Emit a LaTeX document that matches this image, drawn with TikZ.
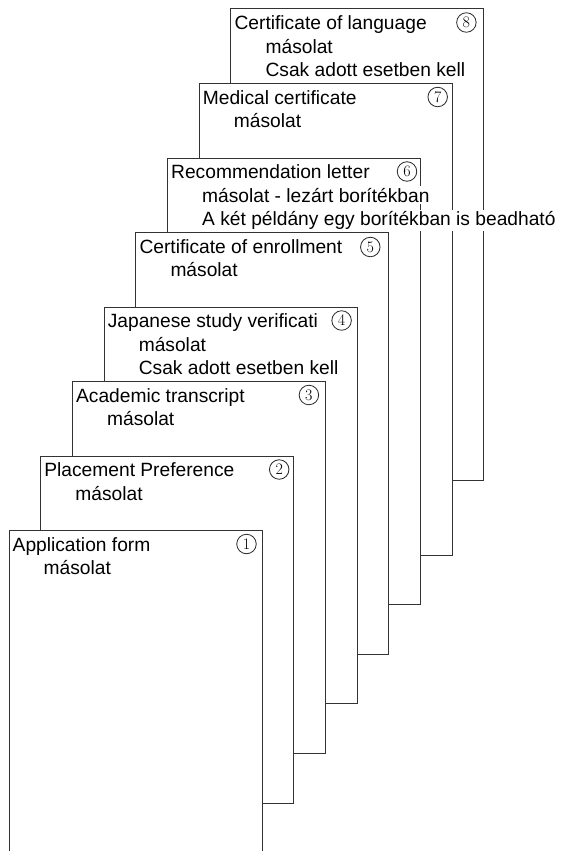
\documentclass[tikz,border=0pt]{standalone}
\usepackage{fontspec}
\newfontfamily\arialfont{Liberation Sans}
\usetikzlibrary{positioning}

\begin{document}
\begin{tikzpicture}[
    x=1pt, y=-1pt,
    page/.style={
      draw=black!80, line width=1pt, fill=white, rectangle,
      anchor=north west, minimum width=253pt, inner sep=0pt
    },
    label/.style={
      font=\arialfont\fontsize{19.2}{20}\selectfont, anchor=base west,
      inner sep=1.5pt, fill=white
    },
    badge/.style={
      circle, draw=black!85, line width=0.8pt, fill=white,
      minimum size=19.5pt, inner sep=0pt, font=\fontsize{16}{16}\selectfont
    }
]
    \useasboundingbox (0,0) rectangle (574,851);

    % Page 8
    \node[page, minimum height=471.5pt] (P8) at (230.4,8.5) {};
    \node[label] (T8) at ([xshift=2.5pt,yshift=-21pt]P8.north west) {Certificate of language};
    \node[label] (T8a) at ([xshift=33.5pt,yshift=-44.5pt]P8.north west) {másolat};
    \node[label] (T8b) at ([xshift=33.5pt,yshift=-68pt]P8.north west) {Csak adott esetben kell};
    \node[badge] (N8) at ([xshift=-18pt,yshift=-14pt]P8.north east) {8};

    % Page 7
    \node[page, minimum height=471.7pt] (P7) at (198.7,83) {};
    \node[label] (T7) at ([xshift=2.5pt,yshift=-21pt]P7.north west) {Medical certificate};
    \node[label] (T7a) at ([xshift=33.5pt,yshift=-44.5pt]P7.north west) {másolat};
    \node[badge] (N7) at ([xshift=-15pt,yshift=-14pt]P7.north east) {7};

    % Page 6
    \node[page, minimum height=446.5pt] (P6) at (167,157.5) {};
    \node[label] (T6) at ([xshift=2.5pt,yshift=-21pt]P6.north west) {Recommendation letter};
    \node[label] (T6a) at ([xshift=33.5pt,yshift=-44.5pt]P6.north west) {másolat - lezárt borítékban};
    \node[label] (T6b) at ([xshift=33.5pt,yshift=-68pt]P6.north west) {A két példány egy borítékban is beadható};
    \node[badge] (N6) at ([xshift=-14pt,yshift=-14pt]P6.north east) {6};

    % Page 5
    \node[page, minimum height=422pt] (P5) at (135.3,232) {};
    \node[label] (T5) at ([xshift=2.5pt,yshift=-21pt]P5.north west) {Certificate of enrollment};
    \node[label] (T5a) at ([xshift=33.5pt,yshift=-44.5pt]P5.north west) {másolat};
    \node[badge] (N5) at ([xshift=-19pt,yshift=-15pt]P5.north east) {5};

    % Page 4
    \node[page, minimum height=396.5pt] (P4) at (103.6,306.5) {};
    \node[label] (T4) at ([xshift=2.5pt,yshift=-21pt]P4.north west) {Japanese study verificati};
    \node[label] (T4a) at ([xshift=33.5pt,yshift=-44.5pt]P4.north west) {másolat};
    \node[label] (T4b) at ([xshift=33.5pt,yshift=-68pt]P4.north west) {Csak adott esetben kell};
    \node[badge] (N4) at ([xshift=-16pt,yshift=-14pt]P4.north east) {4};

    % Page 3
    \node[page, minimum height=372pt] (P3) at (71.9,381) {};
    \node[label] (T3) at ([xshift=2.5pt,yshift=-21pt]P3.north west) {Academic transcript};
    \node[label] (T3a) at ([xshift=33.5pt,yshift=-44.5pt]P3.north west) {másolat};
    \node[badge] (N3) at ([xshift=-17pt,yshift=-14pt]P3.north east) {3};

    % Page 2
    \node[page, minimum height=347.2pt] (P2) at (40.2,455.5) {};
    \node[label] (T2) at ([xshift=2.5pt,yshift=-21pt]P2.north west) {Placement Preference};
    \node[label] (T2a) at ([xshift=33.5pt,yshift=-44.5pt]P2.north west) {másolat};
    \node[badge] (N2) at ([xshift=-15pt,yshift=-14pt]P2.north east) {2};

    % Page 1 (runs off the bottom)
    \node[page, minimum height=330pt] (P1) at (8.5,530) {};
    \node[label] (T1) at ([xshift=2.5pt,yshift=-21pt]P1.north west) {Application form};
    \node[label] (T1a) at ([xshift=33.5pt,yshift=-44.5pt]P1.north west) {másolat};
    \node[badge] (N1) at ([xshift=-16pt,yshift=-14pt]P1.north east) {1};
\end{tikzpicture}
\end{document}
